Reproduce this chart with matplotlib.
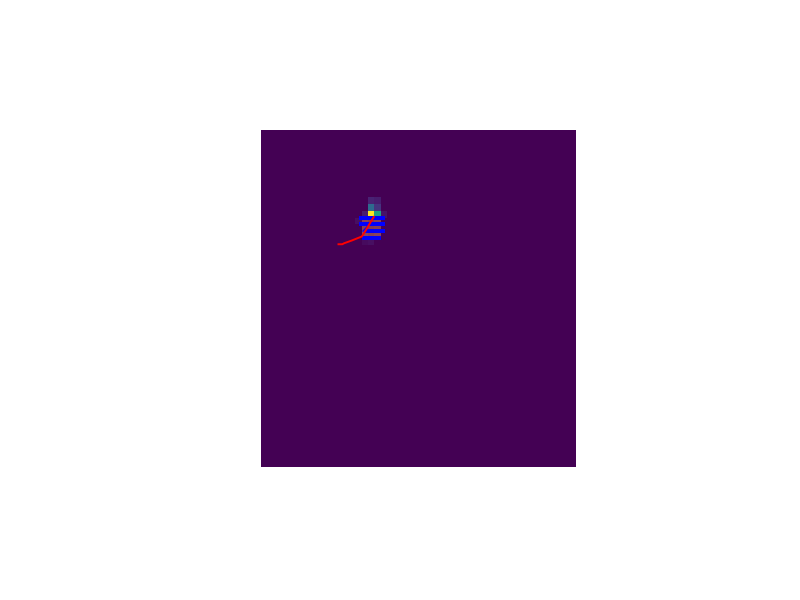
import numpy as np
import matplotlib
matplotlib.use("Agg")
import matplotlib.pyplot as plt

# heatmap grid size and the few non-zero cells (row, col, value)
n_rows, n_cols = 50, 50
hot_rows = [10, 10, 11, 11, 12, 12, 12, 12, 13, 13, 13, 13, 14, 14, 14, 15, 15, 15, 16, 16]
hot_cols = [17, 18, 17, 18, 16, 17, 18, 19, 15, 16, 17, 18, 16, 17, 18, 16, 17, 18, 16, 17]
hot_vals = [0.10, 0.08, 0.35, 0.15, 0.08, 1.00, 0.58, 0.05, 0.04, 0.07, 0.08, 0.06,
            0.06, 0.08, 0.05, 0.05, 0.06, 0.04, 0.03, 0.04]

# orange overlay cells under the markers
over_rows = [13, 13, 13, 14, 14, 14, 15, 15, 15]
over_cols = [16, 17, 18, 16, 17, 18, 16, 17, 18]
over_vals = [0.5, 0.6, 0.5, 0.5, 0.6, 0.5, 0.4, 0.5, 0.4]

# blue square markers
pts_x = [15.8, 16.4, 17.0, 17.6, 18.2, 18.8, 19.4,
         15.8, 16.4, 17.0, 17.6, 18.2, 18.8, 19.4,
         16.9, 17.5, 18.1, 18.7, 19.3,
         16.4, 17.0, 17.6, 18.2, 18.8]
pts_y = [13.0] * 7 + [14.0] * 7 + [15.0] * 5 + [16.0] * 5

# red track
track_x = [12.3, 12.9, 13.2, 14.4, 16.0, 16.5, 17.6, 17.9]
track_y = [16.95, 16.95, 16.8, 16.4, 15.8, 15.1, 13.35, 12.9]

# short blue track
track2_x = [16.2, 17.5]
track2_y = [15.0, 13.7]

heat = np.zeros((n_rows, n_cols))
for r, c, v in zip(hot_rows, hot_cols, hot_vals):
    heat[r, c] = v

over = np.zeros((n_rows, n_cols))
for r, c, v in zip(over_rows, over_cols, over_vals):
    over[r, c] = v
over = np.ma.masked_equal(over, 0)

fig = plt.figure(figsize=(8, 6), dpi=100)
ax = fig.add_axes([261 / 800, (600 - 467) / 600, 315 / 800, 337 / 600])
ax.imshow(heat, cmap="viridis", extent=(0, n_cols, n_rows, 0), aspect="auto",
          interpolation="nearest", vmin=0, vmax=1)
ax.imshow(over, cmap="Oranges", extent=(0, n_cols, n_rows, 0), aspect="auto",
          interpolation="nearest", alpha=0.35, vmin=0, vmax=1)
ax.plot(track2_x, track2_y, color="blue", lw=1)
ax.scatter(pts_x, pts_y, marker="s", s=5, color="blue", linewidths=0, zorder=3)
ax.plot(track_x, track_y, color="red", lw=1.4, zorder=4)
ax.set_xlim(0, n_cols)
ax.set_ylim(n_rows, 0)
ax.axis("off")

fig.savefig("out.png", dpi=100)
